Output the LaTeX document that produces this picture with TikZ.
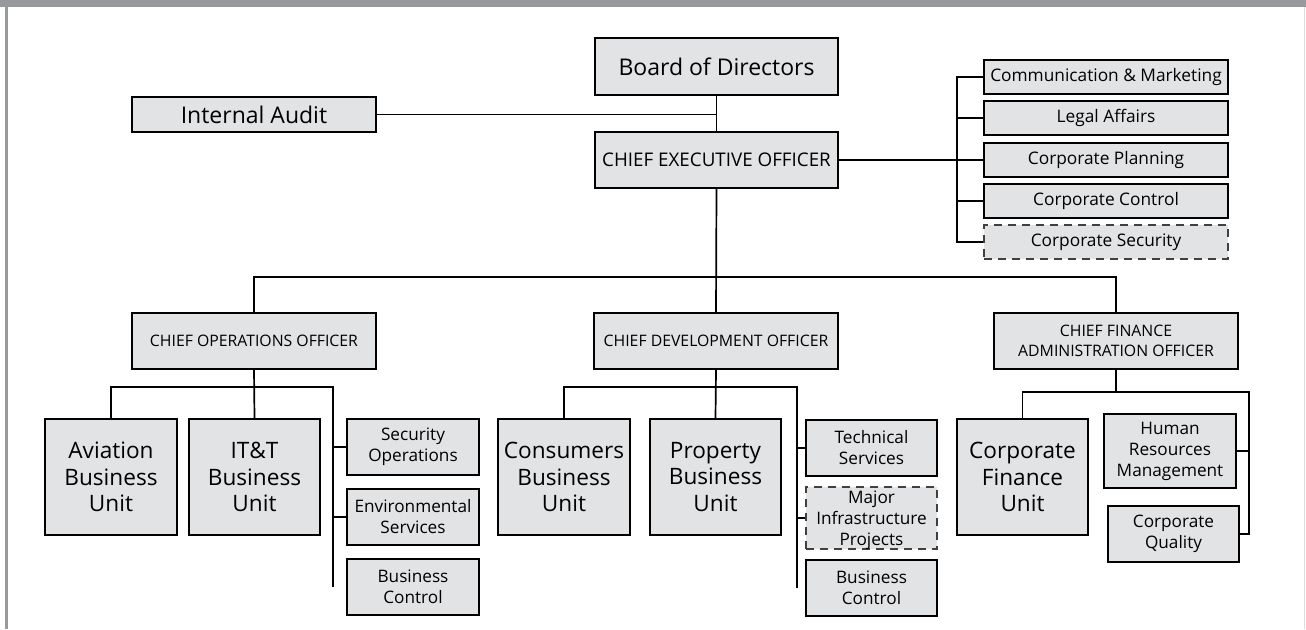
\documentclass[tikz,border=0pt]{standalone}
\usepackage{fontspec}
\setmainfont{Open Sans}
\begin{document}
\begin{tikzpicture}[x=1pt,y=-1pt,
  box/.style={draw=black,line width=1.7pt,fill=boxfill,inner sep=0pt,align=center,text=black},
  dbox/.style={box,draw=black!75,dashed,dash pattern=on 8pt off 6pt,line width=1.4pt},
  link/.style={line width=1.7pt,draw=black},
  fBoard/.style={font=\fontsize{23}{26}\selectfont},
  fTitle/.style={font=\fontsize{18.8}{22}\selectfont},
  fStaff/.style={font=\fontsize{17.3}{20}\selectfont},
  fOff/.style={font=\fontsize{15.8}{20.7}\selectfont},
  fUnit/.style={font=\fontsize{22.6}{26.7}\selectfont},
  fSmall/.style={font=\fontsize{17.2}{21}\selectfont},
]
\definecolor{boxfill}{HTML}{E2E3E5}
\definecolor{framegray}{HTML}{98999D}
\definecolor{edgegray}{HTML}{DCDCDE}

% page frame
\useasboundingbox (0,0) rectangle (1306,629);
\fill[white] (0,0) rectangle (1306,629);
\fill[framegray] (0,0) rectangle (1306,7);
\fill[framegray] (5,7) rectangle (8,629);
\fill[edgegray] (1304,7) rectangle (1305,629);

% top level
\node[box,fBoard,minimum width=243pt,minimum height=57pt] (board) at (716.5,66.5) {Board of Directors};
\node[box,fBoard,minimum width=244pt,minimum height=35pt] (audit) at (254,114.5) {Internal Audit};
\node[box,fTitle,minimum width=243pt,minimum height=56pt] (ceo) at (716.5,160) {CHIEF EXECUTIVE OFFICER};

% staff units beside the CEO
\node[box,fStaff,minimum width=244pt,minimum height=34pt] (comm) at (1106,77) {Communication \& Marketing};
\node[box,fStaff,minimum width=244pt,minimum height=34pt] (legal) at (1106,118) {Legal Affairs};
\node[box,fStaff,minimum width=244pt,minimum height=34pt] (plan) at (1106,160) {Corporate Planning};
\node[box,fStaff,minimum width=244pt,minimum height=34pt] (ctrl) at (1106,201) {Corporate Control};
\node[dbox,fStaff,minimum width=244pt,minimum height=34pt] (csec) at (1106,242) {Corporate Security};

% officers
\node[box,fOff,minimum width=244pt,minimum height=56pt] (coo) at (254,341) {CHIEF OPERATIONS OFFICER};
\node[box,fOff,minimum width=244pt,minimum height=56pt] (cdo) at (716,341) {CHIEF DEVELOPMENT OFFICER};
\node[box,fOff,minimum width=244pt,minimum height=56pt] (cfao) at (1116,341) {CHIEF FINANCE\\ADMINISTRATION OFFICER};

% operations
\node[box,fUnit,minimum width=132pt,minimum height=116pt] (avi) at (111,477) {Aviation\\Business\\Unit};
\node[box,fUnit,minimum width=131pt,minimum height=116pt] (itt) at (254.5,477) {IT\&T\\Business\\Unit};
\node[box,fSmall,minimum width=132pt,minimum height=56pt] (secops) at (413,447) {Security\\Operations};
\node[box,fSmall,minimum width=132pt,minimum height=56pt] (env) at (413,517) {Environmental\\Services};
\node[box,fSmall,minimum width=132pt,minimum height=56pt] (bc1) at (413,587) {Business\\Control};

% development
\node[box,fUnit,minimum width=132pt,minimum height=116pt] (cons) at (564,477) {Consumers\\Business\\Unit};
\node[box,fUnit,minimum width=131pt,minimum height=116pt] (prop) at (715.5,477) {Property\\Business\\Unit};
\node[box,fSmall,minimum width=131pt,minimum height=56pt] (tech) at (871.5,448) {Technical\\Services};
\node[dbox,fSmall,minimum width=131pt,minimum height=62pt,text depth=0pt] (mip) at (871.5,518) {Major\\Infrastructure\\Projects};
\node[box,fSmall,minimum width=131pt,minimum height=56pt] (bc2) at (871.5,588) {Business\\Control};

% finance
\node[box,fUnit,minimum width=131pt,minimum height=116pt] (cfu) at (1022.5,477) {Corporate\\Finance\\Unit};
\node[box,fSmall,minimum width=132pt,minimum height=74pt] (hrm) at (1170,451) {Human\\Resources\\Management};
\node[box,fSmall,minimum width=131pt,minimum height=56pt] (cq) at (1173.5,534) {Corporate\\Quality};

% connectors: board and CEO
\draw[link] (board.south) -- (ceo.north);
\draw[link] (audit.east) -- (board.south |- audit.east);
\coordinate (sx) at (957,160);
\draw[link,line width=2.5pt] (ceo.east) -- (plan.west);
\draw[link] (comm.west) -| (sx) |- (csec.west);
\draw[link] (legal.west) -- (sx |- legal.west);
\draw[link] (ctrl.west) -- (sx |- ctrl.west);

% connectors: CEO to officers
\coordinate (bus) at (716,277);
\draw[link] (ceo.south) -- (cdo.north);
\draw[link] (coo.north) |- (bus) -| (cfao.north);

% connectors: operations
\coordinate (ov) at (333,387);
\draw[link] (coo.south) -- (itt.north);
\draw[link] (avi.north) |- (ov) -- (333,587);
\draw[link] (secops.west) -- (ov |- secops.west);
\draw[link] (env.west) -- (ov |- env.west);

% connectors: development
\coordinate (dv) at (797,387);
\draw[link] (cdo.south) -- (prop.north);
\draw[link] (cons.north) |- (dv) -- (797,588);
\draw[link] (tech.west) -- (dv |- tech.west);
\draw[link] (mip.west) -- (dv |- mip.west);

% connectors: finance
\coordinate (fb) at (1116,392);
\coordinate (fv) at (1249,392);
\draw[link] (cfao.south) -- (fb);
\draw[link] (cfu.north) |- (fv) |- (cq.east);
\draw[link] (hrm.east) -- (fv |- hrm.east);
\end{tikzpicture}
\end{document}
